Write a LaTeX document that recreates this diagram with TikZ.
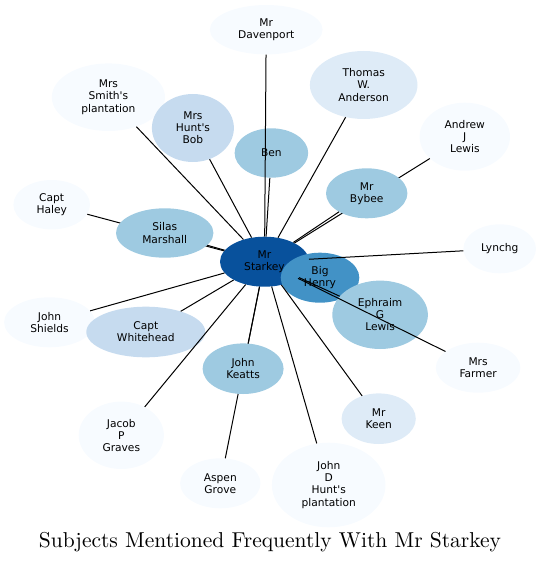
\documentclass[tikz,border=0pt]{standalone}
\usepackage{fontspec}
\newfontfamily\subjectfont{DejaVu Sans}[Ligatures=TeXOff]
\newfontfamily\titlefont{lmroman10-regular}[Extension=.otf]
\usetikzlibrary{shapes.geometric}
\definecolor{BluesA}{HTML}{F7FBFF}
\definecolor{BluesB}{HTML}{DEEBF7}
\definecolor{BluesC}{HTML}{C6DBEF}
\definecolor{BluesD}{HTML}{9ECAE1}
\definecolor{BluesE}{HTML}{4292C6}
\definecolor{BluesF}{HTML}{08519C}

\begin{document}
\begin{tikzpicture}[x=1bp,y=-1bp,
    subject/.style={ellipse,inner sep=0pt,align=center,text=black,
      font=\subjectfont\fontsize{10.7}{12.1}\selectfont},
    oval/.style 2 args={minimum width=#1bp,minimum height=#2bp},
    mention/.style={black,line width=1bp}]
        \useasboundingbox (0,0) rectangle (541,563);

        % outer ring of subjects
        \node[subject,oval={112.8}{49.4},fill=BluesA] (davenport) at (266.2,29.7) {Mr\\Davenport};
        \node[subject,oval={113.2}{67.6},fill=BluesA] (smith) at (108.4,97.2) {Mrs\\Smith's\\plantation};
        \node[subject,oval={82}{68},fill=BluesC] (huntbob) at (192.9,128) {Mrs\\Hunt's\\Bob};
        \node[subject,oval={107.6}{68},fill=BluesB] (anderson) at (363.7,85) {Thomas\\W.\\Anderson};
        \node[subject,oval={90.4}{68},fill=BluesA] (andrew) at (464.8,136.7) {Andrew\\J\\Lewis};
        \node[subject,oval={73.6}{49.4},fill=BluesD] (ben) at (271.4,153) {Ben};
        \node[subject,oval={76.6}{49.4},fill=BluesA] (haley) at (51.7,204.7) {Capt\\Haley};
        \node[subject,oval={72.6}{49},fill=BluesA] (lynchg) at (499.7,248.8) {Lynchg};
        \node[subject,oval={90.8}{50},fill=BluesA] (shields) at (49.5,322.3) {John\\Shields};
        \node[subject,oval={119}{50.6},fill=BluesC] (whitehead) at (145.8,332) {Capt\\Whitehead};
        \node[subject,oval={84.6}{50},fill=BluesA] (farmer) at (478.1,367.7) {Mrs\\Farmer};
        \node[subject,oval={85.2}{67.4},fill=BluesA] (graves) at (121.3,435.3) {Jacob\\P\\Graves};
        \node[subject,oval={80.4}{50},fill=BluesA] (aspen) at (220.3,483.3) {Aspen\\Grove};
        \node[subject,oval={74.2}{50.6},fill=BluesB] (keen) at (378.7,418.7) {Mr\\Keen};
        \node[subject,oval={113.6}{84.6},fill=BluesA] (huntplant) at (328.7,485) {John\\D\\Hunt's\\plantation};

        % centre
        \node[subject,oval={89}{50},fill=BluesF] (starkey) at (264.5,261.7) {Mr\\Starkey};
        \node[subject,oval={78.6}{50},fill=BluesE] (henry) at (320,277.7) {Big\\Henry};
        \node[subject,oval={95.6}{68.4},fill=BluesD] (ephraim) at (380.1,314.8) {Ephraim\\G\\Lewis};

        % these run under Silas, Mr Bybee and John Keatts
        \foreach \other in {haley,andrew,aspen}
          \draw[mention] (starkey) -- (\other);

        \node[subject,oval={97.4}{49.4},fill=BluesD] (silas) at (164.7,233) {Silas\\Marshall};
        \node[subject,oval={81.4}{50},fill=BluesD] (bybee) at (366.7,193.3) {Mr\\Bybee};
        \node[subject,oval={81}{50.6},fill=BluesD] (keatts) at (243.1,368.7) {John\\Keatts};

        \foreach \other in {davenport,smith,huntbob,anderson,ben,bybee,
          silas,lynchg,ephraim,farmer,shields,whitehead,keatts,graves,keen,huntplant}
          \draw[mention] (starkey) -- (\other);

        \node[anchor=base,font=\titlefont\fontsize{21.6}{25}\selectfont] (title) at (270,547.3)
          {Subjects Mentioned Frequently With Mr Starkey};
      \end{tikzpicture}
\end{document}
